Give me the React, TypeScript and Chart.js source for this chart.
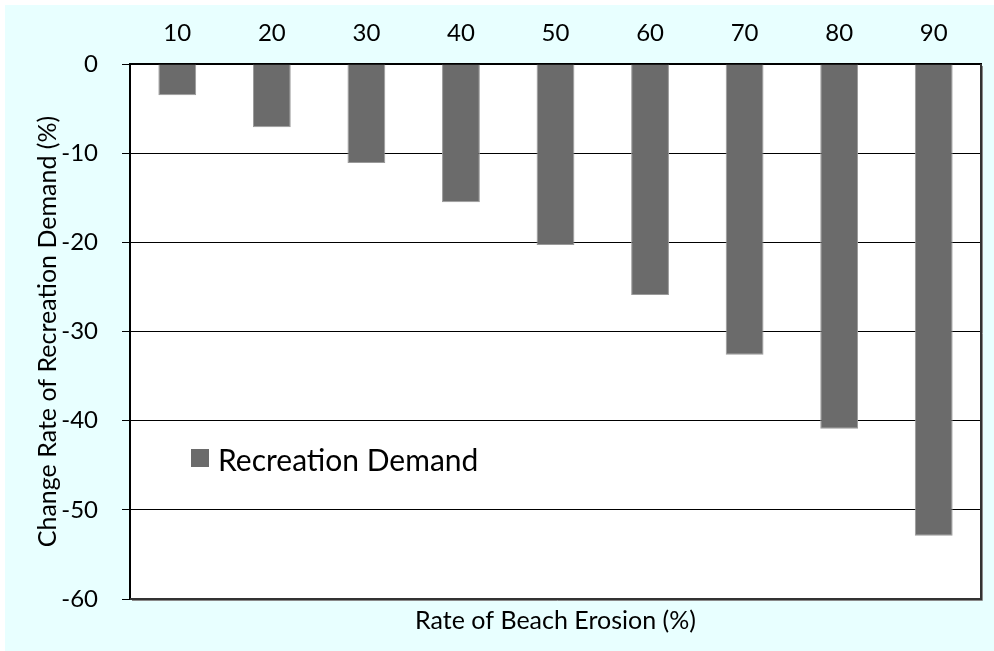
import React, { useEffect, useRef } from "react";
import { Chart, registerables } from "chart.js";

Chart.register(...registerables);

const categories = ["10", "20", "30", "40", "50", "60", "70", "80", "90"];
const demandChange = [-3.5, -7.1, -11.1, -15.5, -20.3, -25.9, -32.6, -40.9, -52.9];
const yTicks = [0, -10, -20, -30, -40, -50, -60];
const seriesLabel = "Recreation Demand";
const xTitle = "Rate of Beach Erosion (%)";
const yTitle = "Change Rate of Recreation Demand (%)";

const FONT = "Lato, 'Open Sans', sans-serif";

const framePlugin = {
  id: "frame",
  beforeDraw(chart: any) {
    const { ctx, chartArea } = chart;
    ctx.save();
    ctx.fillStyle = "#ffffff";
    ctx.fillRect(chartArea.left, chartArea.top, chartArea.right - chartArea.left, chartArea.bottom - chartArea.top);
    ctx.restore();
  },
  afterDraw(chart: any) {
    const { ctx, chartArea } = chart;
    const { left, right, top, bottom } = chartArea;
    ctx.save();
    ctx.strokeStyle = "#8a8a8a";
    ctx.lineWidth = 1;
    ctx.beginPath();
    ctx.moveTo(right + 1.5, top + 2);
    ctx.lineTo(right + 1.5, bottom + 1.5);
    ctx.lineTo(left + 2, bottom + 1.5);
    ctx.stroke();
    ctx.strokeStyle = "#333333";
    ctx.lineWidth = 2;
    ctx.beginPath();
    ctx.moveTo(right, top);
    ctx.lineTo(right, bottom);
    ctx.lineTo(left, bottom);
    ctx.stroke();
    const ds = chart.data.datasets[0];
    const bx = left + 61;
    const by = top + 385;
    ctx.fillStyle = ds.backgroundColor;
    ctx.fillRect(bx, by, 18, 18);
    ctx.fillStyle = "#000000";
    ctx.font = `30px ${FONT}`;
    ctx.textBaseline = "middle";
    ctx.textAlign = "left";
    ctx.fillText(ds.label, bx + 27, by + 12);
    ctx.restore();
  },
};

export default function App() {
  const ref = useRef<HTMLCanvasElement | null>(null);
  useEffect(() => {
    document.body.style.margin = "0";
    const canvas = ref.current!;
    const chart = new Chart(canvas, {
      type: "bar",
      data: {
        labels: categories,
        datasets: [
          {
            label: seriesLabel,
            data: demandChange,
            backgroundColor: "#6b6b6b",
            borderColor: "#9a9a9a",
            borderWidth: 1,
            categoryPercentage: 1,
            barPercentage: 0.4,
            xAxisID: "x",
          },
        ],
      },
      options: {
        animation: false,
        responsive: false,
        maintainAspectRatio: false,
        layout: { padding: { left: 0, right: 13, top: 0, bottom: 0 } },
        plugins: { legend: { display: false }, tooltip: { enabled: false } },
        scales: {
          x: {
            type: "category",
            position: "top",
            offset: true,
            grid: { display: false, drawTicks: false, tickLength: 0 },
            border: { display: true, color: "#000000", width: 2 },
            ticks: { color: "#000000", font: { family: FONT, size: 24 }, padding: 16 },
            afterFit: (s: any) => {
              s.height = 59;
            },
          },
          x2: {
            type: "category",
            position: "bottom",
            labels: categories,
            offset: true,
            grid: { display: false, drawTicks: false },
            border: { display: false },
            ticks: { display: false },
            title: {
              display: true,
              text: xTitle,
              color: "#000000",
              font: { family: FONT, size: 25 },
              padding: { top: 0, bottom: 15 },
            },
            afterFit: (s: any) => {
              s.height = 52;
            },
          },
          y: {
            min: -60,
            max: 0,
            afterBuildTicks: (s: any) => {
              s.ticks = yTicks.map((v) => ({ value: v }));
            },
            grid: { color: "#000000", lineWidth: 1, tickLength: 8, drawTicks: true },
            border: { display: true, color: "#000000", width: 2 },
            ticks: { color: "#000000", font: { family: FONT, size: 24 }, padding: 24 },
            title: {
              display: true,
              text: yTitle,
              color: "#000000",
              font: { family: FONT, size: 25 },
              padding: { top: 28, bottom: 0 },
            },
            afterFit: (s: any) => {
              s.width = 125;
            },
          },
        },
      },
      plugins: [framePlugin],
    } as any);
    return () => chart.destroy();
  }, []);
  return (
    <div style={{ position: "relative", width: 994, height: 651, background: "#ffffff", overflow: "hidden" }}>
      <div style={{ position: "absolute", left: 5, top: 5, width: 989, height: 646, background: "#e8ffff" }}>
        <canvas ref={ref} width={989} height={646} style={{ display: "block", width: 989, height: 646 }} />
      </div>
    </div>
  );
}
